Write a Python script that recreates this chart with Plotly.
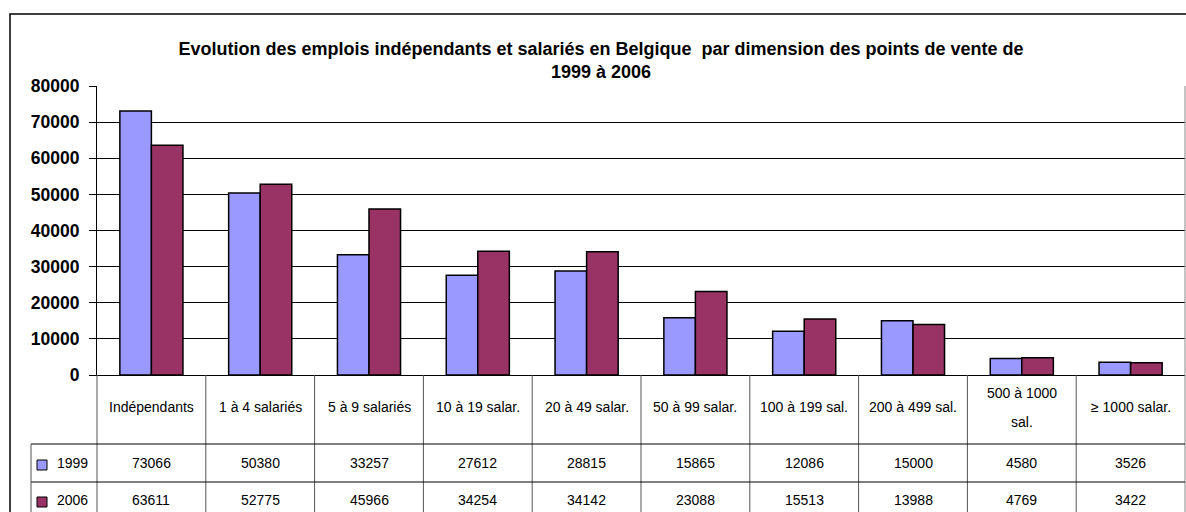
import plotly.graph_objects as go

# data
categories = ["Indépendants", "1 à 4 salariés", "5 à 9 salariés", "10 à 19 salar.",
              "20 à 49 salar.", "50 à 99 salar.", "100 à 199 sal.", "200 à 499 sal.",
              "500 à 1000<br>sal.", "≥ 1000 salar."]
series_names = ["1999", "2006"]
v1999 = [73066, 50380, 33257, 27612, 28815, 15865, 12086, 15000, 4580, 3526]
v2006 = [63611, 52775, 45966, 34254, 34142, 23088, 15513, 13988, 4769, 3422]
colors = ["#9999FF", "#993366"]

W, H = 1186, 512
L, R, T, B = 97, 1185, 86, 375   # plot area in pixels


def px(x):
    return (x - L) / (R - L)


def py(y):
    return (B - y) / (B - T)


fig = go.Figure()
for name, vals, col in zip(series_names, [v1999, v2006], colors):
    fig.add_trace(go.Bar(
        x=list(range(len(categories))), y=vals, name=name,
        marker=dict(color=col, line=dict(color="black", width=1.5)),
        showlegend=False,
    ))

font_fam = "Liberation Sans, Arial, sans-serif"
cell_font = dict(size=14, color="black", family=font_fam)
shapes = []
annotations = []

# outer chart frame
shapes.append(dict(type="rect", xref="paper", yref="paper",
                   x0=px(10), x1=px(1195), y0=py(530), y1=py(14),
                   line=dict(color="black", width=1.5), layer="below"))

# data table below the axis
n = len(categories)
row_cat_bot = py(444)
row1_bot = py(482)
row2_bot = py(525)
for i in range(n + 1):
    shapes.append(dict(type="line", xref="paper", yref="paper",
                       x0=i / n, x1=i / n, y0=0, y1=row2_bot,
                       line=dict(color="#555555" if i < n else "#888888", width=1)))
for yy in [row_cat_bot, row1_bot]:
    shapes.append(dict(type="line", xref="paper", yref="paper",
                       x0=px(31), x1=1, y0=yy, y1=yy,
                       line=dict(color="black", width=1)))
shapes.append(dict(type="line", xref="paper", yref="paper",
                   x0=px(31), x1=px(31), y0=row_cat_bot, y1=row2_bot,
                   line=dict(color="#555555", width=1)))
# right border of plot area
shapes.append(dict(type="line", xref="paper", yref="paper",
                   x0=1, x1=1, y0=0, y1=1, line=dict(color="#888888", width=1)))

# category header cells (wrapped labels get the wide Excel line spacing)
for i, cat in enumerate(categories):
    lines = cat.split("<br>")
    step = 29
    first = 407 - step * (len(lines) - 1) / 2
    for k, line in enumerate(lines):
        annotations.append(dict(x=(i + 0.5) / n, y=py(first + k * step), xref="paper", yref="paper",
                                xanchor="center", yanchor="middle",
                                text=line, showarrow=False, font=cell_font))
for vals, ycen in [(v1999, py(463)), (v2006, py(500))]:
    for i, v in enumerate(vals):
        annotations.append(dict(x=(i + 0.5) / n, y=ycen, xref="paper", yref="paper",
                                xanchor="center", yanchor="middle",
                                text=str(v), showarrow=False, font=cell_font))

# legend keys in the table
for name, col, ycen in [(series_names[0], colors[0], 465),
                        (series_names[1], colors[1], 502)]:
    shapes.append(dict(type="rect", xref="paper", yref="paper",
                       x0=px(37), x1=px(47), y0=py(ycen + 5), y1=py(ycen - 5),
                       fillcolor=col, line=dict(color="black", width=1)))
    annotations.append(dict(x=px(55), y=py(ycen - 2), xref="paper", yref="paper",
                            xanchor="left", yanchor="middle",
                            text=name, showarrow=False, font=cell_font))

fig.update_layout(
    width=W, height=H,
    margin=dict(l=L, r=W - R, t=T, b=H - B, autoexpand=False),
    paper_bgcolor="white", plot_bgcolor="white",
    barmode="group", bargap=0.42, bargroupgap=0,
    title=dict(text="<b>Evolution des emplois indépendants et salariés en Belgique  par dimension des points de vente de<br>1999 à 2006</b>",
               xref="container", x=601 / W, xanchor="center",
               yref="container", y=1 - 55 / H, yanchor="middle",
               font=dict(size=18, color="black", family=font_fam)),
    xaxis=dict(range=[-0.5, n - 0.5], showticklabels=False, showgrid=False,
               showline=True, linecolor="black", linewidth=1, zeroline=False),
    yaxis=dict(range=[0, 80000], dtick=10000, tickformat="d",
               showgrid=True, gridcolor="black", gridwidth=1,
               showline=True, linecolor="black", linewidth=1, zeroline=False,
               ticks="outside", ticklen=7, tickcolor="black", ticklabelstandoff=6,
               tickfont=dict(size=17.5, color="black", family=font_fam, weight="bold")),
    shapes=shapes, annotations=annotations,
)

fig.write_html("out.html", config={"displayModeBar": False},
               post_script="document.body.style.margin='0';")
